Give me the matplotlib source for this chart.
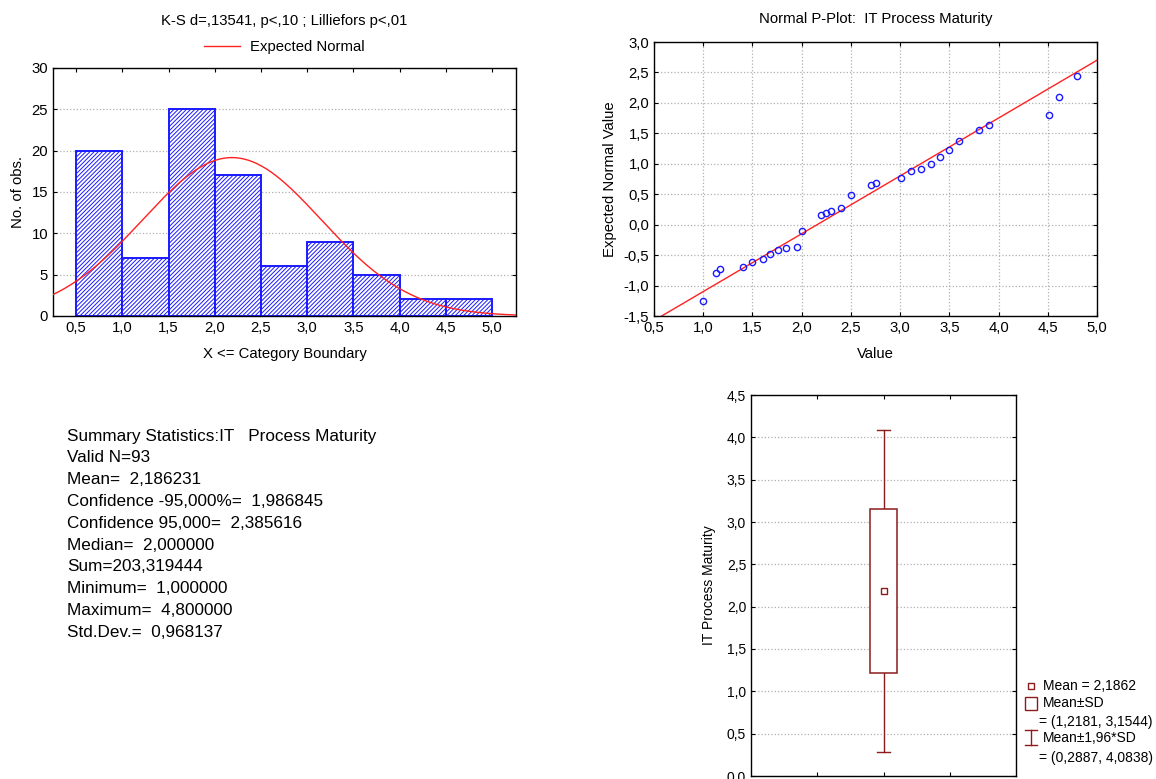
import numpy as np
import matplotlib
matplotlib.use("Agg")
import matplotlib.pyplot as plt
from matplotlib.ticker import FuncFormatter
from matplotlib.patches import Rectangle
from matplotlib.lines import Line2D

plt.rcParams['font.family'] = ['Liberation Sans', 'DejaVu Sans']
plt.rcParams['font.size'] = 10.7
plt.rcParams['hatch.linewidth'] = 0.7

# DATA

bin_edges = [0.5, 1.0, 1.5, 2.0, 2.5, 3.0, 3.5, 4.0, 4.5, 5.0]
bin_counts = [20, 7, 25, 17, 6, 9, 5, 2, 2]

n_valid = 93
mean_val = 2.186231
sd_val = 0.968137

pp_values = [1.0, 1.13, 1.167, 1.4, 1.5, 1.61, 1.68, 1.76, 1.84, 1.956,
             2.0, 2.2, 2.25, 2.3, 2.4, 2.5, 2.7, 2.75, 3.01, 3.11,
             3.21, 3.31, 3.41, 3.5, 3.6, 3.8, 3.9, 4.51, 4.61, 4.8]
pp_expected = [-1.26, -0.80, -0.73, -0.70, -0.62, -0.56, -0.48, -0.42, -0.39, -0.36,
               -0.10, 0.16, 0.19, 0.22, 0.28, 0.48, 0.65, 0.68, 0.76, 0.88,
               0.91, 0.99, 1.11, 1.22, 1.37, 1.55, 1.63, 1.80, 2.09, 2.44]
pp_slope = 0.950
pp_intercept = -2.049

box_mean = 2.1862
box_sd = (1.2181, 3.1544)
box_196sd = (0.2887, 4.0838)

summary_lines = [
    "Summary Statistics:IT   Process Maturity",
    "Valid N=93",
    "Mean=  2,186231",
    "Confidence -95,000%=  1,986845",
    "Confidence 95,000=  2,385616",
    "Median=  2,000000",
    "Sum=203,319444",
    "Minimum=  1,000000",
    "Maximum=  4,800000",
    "Std.Dev.=  0,968137",
]

BLUE = "#1a1aff"
RED = "#ff2020"
DARKRED = "#8b1c1c"
W, H = 1156, 779


def comma_fmt(decimals):
    return FuncFormatter(lambda v, p: f"{v:.{decimals}f}".replace(".", ","))


def px_axes(fig, left, top, right, bottom):
    return fig.add_axes([left / W, 1 - bottom / H, (right - left) / W, (bottom - top) / H])


def style_axes(ax, size=10.7):
    ax.tick_params(direction="in", length=3, top=True, right=True, labelsize=size)
    for s in ax.spines.values():
        s.set_linewidth(1.0)


fig = plt.figure(figsize=(W / 100, H / 100), dpi=100)

# Histogram

ax1 = px_axes(fig, 53, 68, 516, 316)
widths = np.diff(bin_edges)
ax1.bar(bin_edges[:-1], bin_counts, width=widths, align="edge", facecolor="white",
        edgecolor=BLUE, hatch="////////", linewidth=1.4, zorder=2)
xs = np.linspace(0.25, 5.26, 300)
curve = n_valid * 0.5 * np.exp(-0.5 * ((xs - mean_val) / sd_val) ** 2) / (sd_val * np.sqrt(2 * np.pi))
ax1.plot(xs, curve, color=RED, linewidth=1.0, zorder=3, label="Expected Normal")
ax1.set_xlim(0.25, 5.26)
ax1.set_ylim(0, 30)
ax1.set_xticks(bin_edges)
ax1.xaxis.set_major_formatter(comma_fmt(1))
ax1.set_yticks(range(0, 31, 5))
ax1.grid(axis="y", linestyle=":", color="#b0b0b0", linewidth=0.9, zorder=0)
ax1.set_axisbelow(True)
ax1.set_xlabel("X <= Category Boundary", labelpad=9)
ax1.set_ylabel("No. of obs.", labelpad=5)
ax1.set_title("K-S d=,13541, p<,10 ; Lilliefors p<,01", pad=31, fontsize=10.7)
ax1.legend(loc="lower center", bbox_to_anchor=(0.5, 1.015), frameon=False,
           handlelength=2.4, handletextpad=0.7, borderpad=0.2)
style_axes(ax1)

# Normal P-Plot

ax2 = px_axes(fig, 654, 42, 1097, 316)
ax2.plot(pp_values, pp_expected, "o", markerfacecolor="none", markeredgecolor=BLUE,
         markersize=4.5, markeredgewidth=1.0, zorder=3)
lx = np.array([0.5, 5.0])
ax2.plot(lx, pp_slope * lx + pp_intercept, color=RED, linewidth=1.0, zorder=2)
ax2.set_xlim(0.5, 5.0)
ax2.set_ylim(-1.5, 3.0)
ax2.set_xticks(np.arange(0.5, 5.01, 0.5))
ax2.set_yticks(np.arange(-1.5, 3.01, 0.5))
ax2.xaxis.set_major_formatter(comma_fmt(1))
ax2.yaxis.set_major_formatter(comma_fmt(1))
ax2.grid(linestyle=":", color="#b0b0b0", linewidth=0.9, zorder=0)
ax2.set_axisbelow(True)
ax2.set_xlabel("Value", labelpad=9)
ax2.set_ylabel("Expected Normal Value", labelpad=5)
ax2.set_title("Normal P-Plot:  IT Process Maturity", pad=14, fontsize=10.7)
style_axes(ax2)

# Box plot (mean / SD / 1.96*SD)

ax3 = px_axes(fig, 751, 395, 1016, 776)
ax3.add_patch(Rectangle((-0.205, box_sd[0]), 0.41, box_sd[1] - box_sd[0], facecolor="white",
                        edgecolor=DARKRED, linewidth=1.1, zorder=3))
ax3.plot([0, 0], [box_196sd[0], box_sd[0]], color=DARKRED, linewidth=1.0, zorder=2)
ax3.plot([0, 0], [box_sd[1], box_196sd[1]], color=DARKRED, linewidth=1.0, zorder=2)
ax3.plot([-0.1, 0.1], [box_196sd[0]] * 2, color=DARKRED, linewidth=1.0)
ax3.plot([-0.1, 0.1], [box_196sd[1]] * 2, color=DARKRED, linewidth=1.0)
ax3.plot([0], [box_mean], "s", markerfacecolor="white", markeredgecolor=DARKRED,
         markersize=4.5, markeredgewidth=1.0, zorder=4)
ax3.set_xlim(-2, 2)
ax3.set_ylim(0, 4.5)
ax3.set_xticks([-1, 0, 1])
ax3.set_xticklabels([])
ax3.set_yticks(np.arange(0, 4.51, 0.5))
ax3.yaxis.set_major_formatter(comma_fmt(1))
ax3.grid(axis="y", linestyle=":", color="#b0b0b0", linewidth=0.9, zorder=0)
ax3.set_axisbelow(True)
ax3.set_ylabel("IT Process Maturity", labelpad=8, fontsize=10)
style_axes(ax3, size=10)

# Box plot legend (drawn in figure pixels)
leg_fs = 10
fig.add_artist(Line2D([1031 / W], [1 - 686 / H], marker="s", markersize=4, markerfacecolor="white",
                      markeredgecolor=DARKRED, markeredgewidth=1.0, transform=fig.transFigure))
fig.text(1043 / W, 1 - 686 / H, "Mean = 2,1862", va="center", fontsize=leg_fs)
fig.add_artist(Rectangle((1025 / W, 1 - 710 / H), 12 / W, 13 / H, facecolor="white",
                         edgecolor=DARKRED, linewidth=1.0, transform=fig.transFigure))
fig.text(1043 / W, 1 - 703 / H, "Mean±SD", va="center", fontsize=leg_fs)
fig.text(1039 / W, 1 - 722 / H, "= (1,2181, 3,1544)", va="center", fontsize=leg_fs)
for yy in (730, 745):
    fig.add_artist(Line2D([1025 / W, 1037 / W], [1 - yy / H] * 2, color=DARKRED, linewidth=1.0,
                          transform=fig.transFigure))
fig.add_artist(Line2D([1031 / W, 1031 / W], [1 - 730 / H, 1 - 745 / H], color=DARKRED,
                      linewidth=1.0, transform=fig.transFigure))
fig.text(1043 / W, 1 - 738 / H, "Mean±1,96*SD", va="center", fontsize=leg_fs)
fig.text(1039 / W, 1 - 758 / H, "= (0,2887, 4,0838)", va="center", fontsize=leg_fs)

# Summary statistics text
for i, line in enumerate(summary_lines):
    fig.text(67 / W, 1 - (436 + i * 21.8) / H, line, va="center", ha="left", fontsize=12.3)

fig.savefig("out.png", dpi=100)
